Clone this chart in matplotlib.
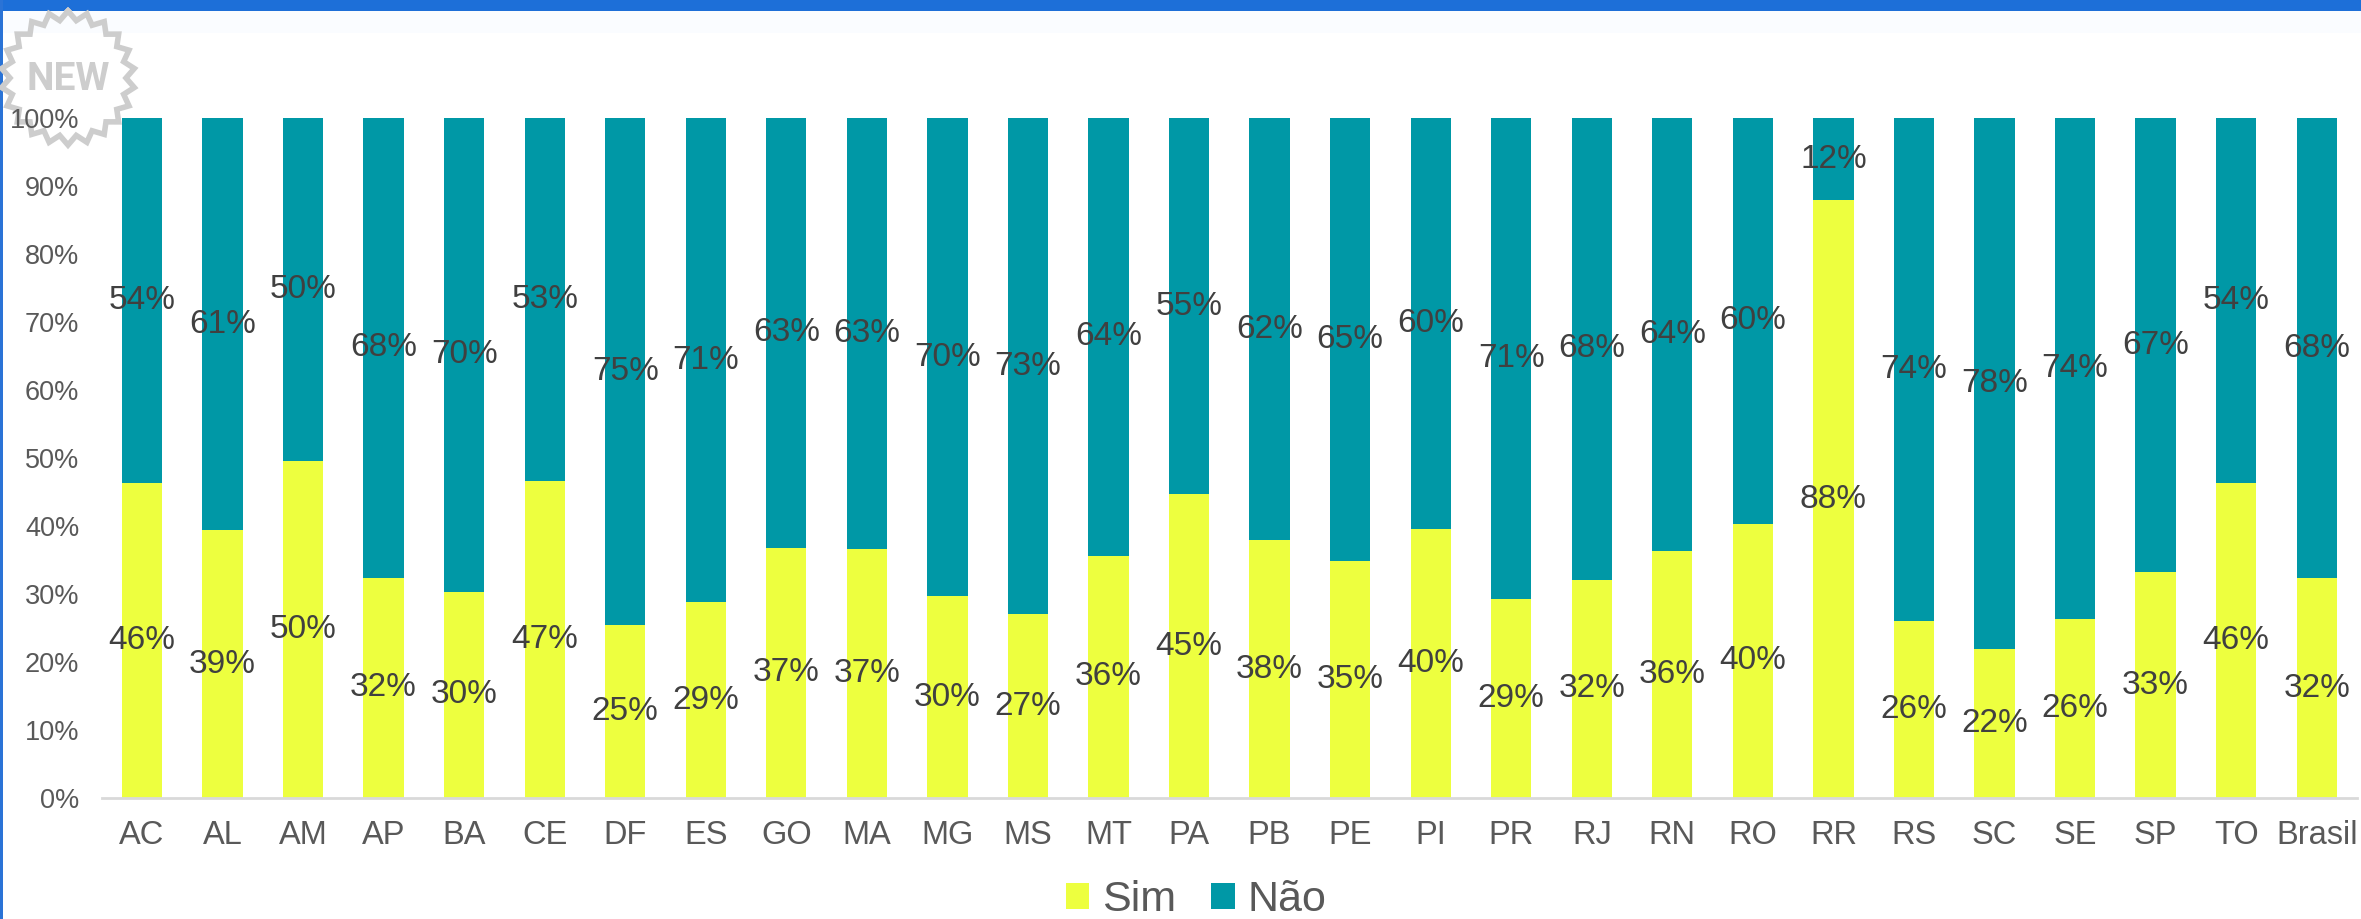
import matplotlib
matplotlib.use('Agg')
import matplotlib.pyplot as plt
import numpy as np

#Categories and values (percent)
states = ['AC', 'AL', 'AM', 'AP', 'BA', 'CE', 'DF', 'ES', 'GO', 'MA', 'MG', 'MS', 'MT', 'PA',
          'PB', 'PE', 'PI', 'PR', 'RJ', 'RN', 'RO', 'RR', 'RS', 'SC', 'SE', 'SP', 'TO', 'Brasil']
sim = [46.3, 39.4, 49.6, 32.4, 30.3, 46.6, 25.4, 28.8, 36.8, 36.6, 29.7, 27.0, 35.6, 44.7,
       37.9, 34.8, 39.6, 29.2, 32.1, 36.3, 40.3, 87.9, 26.1, 21.9, 26.3, 33.2, 46.3, 32.3]
nao = [53.7, 60.6, 50.4, 67.6, 69.7, 53.4, 74.6, 71.2, 63.2, 63.4, 70.3, 73.0, 64.4, 55.3,
       62.1, 65.2, 60.4, 70.8, 67.9, 63.7, 59.7, 12.1, 73.9, 78.1, 73.7, 66.8, 53.7, 67.7]
yticks = [0, 10, 20, 30, 40, 50, 60, 70, 80, 90, 100]

SIM_COLOR = '#EDFF3F'
NAO_COLOR = '#0098A6'
W, H = 2361, 919

plt.rcParams['font.family'] = ['Liberation Sans', 'DejaVu Sans']
fig = plt.figure(figsize=(W/100, H/100), dpi=100)

#Background overlay for border and stamp (pixel coords)
bg = fig.add_axes([0, 0, 1, 1], zorder=0)
bg.set_xlim(0, W)
bg.set_ylim(H, 0)
bg.axis('off')
bg.add_patch(plt.Rectangle((0, 0), W, 11, color='#1D6FD8', lw=0))
bg.add_patch(plt.Rectangle((0, 0), 3, H, color='#2A73D6', lw=0))
bg.add_patch(plt.Rectangle((3, 11), W, 22, color='#FAFCFF', lw=0))

#NEW stamp
n = 22
ang = np.linspace(0, 2*np.pi, 2*n + 1) - np.pi/2
rad = np.where(np.arange(2*n + 1) % 2 == 0, 67, 58)
bg.plot(68 + rad*np.cos(ang), 78 + rad*np.sin(ang), color='#CDCDCD', lw=4, solid_joinstyle='miter')
bg.text(68, 79, 'NEW', fontsize=28, fontweight='bold', family='Roboto', color='#CDCDCD',
        ha='center', va='center')

#Main chart
ax = fig.add_axes([101.7/W, 1 - 798/H, (2357 - 101.7)/W, (798 - 118)/H], zorder=1)
ax.patch.set_alpha(0)
x = np.arange(len(states))
ax.bar(x, sim, width=0.5, color=SIM_COLOR, label='Sim')
ax.bar(x, nao, width=0.5, bottom=sim, color=NAO_COLOR, label='Não')

for i in range(len(states)):
    ax.text(x[i], sim[i]/2, f'{sim[i]:.0f}%', ha='center', va='center', fontsize=24, color='#404040')
    ax.text(x[i], sim[i] + nao[i]/2, f'{nao[i]:.0f}%', ha='center', va='center', fontsize=24, color='#404040')

ax.set_xlim(-0.5, 27.5)
ax.set_ylim(0, 100)
ax.set_xticks(x)
ax.set_xticklabels(states)
ax.set_yticks(yticks)
ax.set_yticklabels([f'{v}%' for v in yticks])
ax.tick_params(axis='x', length=0, pad=16, labelsize=23.5, labelcolor='#595959')
ax.tick_params(axis='y', length=0, pad=16, labelsize=19.5, labelcolor='#595959')
for s in ['top', 'right', 'left']:
    ax.spines[s].set_visible(False)
ax.spines['bottom'].set_color('#D9D9D9')
ax.spines['bottom'].set_linewidth(2)

fig.legend(loc='center', bbox_to_anchor=(1196/W, 1 - 900/H), ncol=2, frameon=False,
           fontsize=31, labelcolor='#595959', handlelength=0.55, handleheight=0.55,
           handletextpad=0.3, columnspacing=0.8)

fig.savefig('out.png', dpi=100)
